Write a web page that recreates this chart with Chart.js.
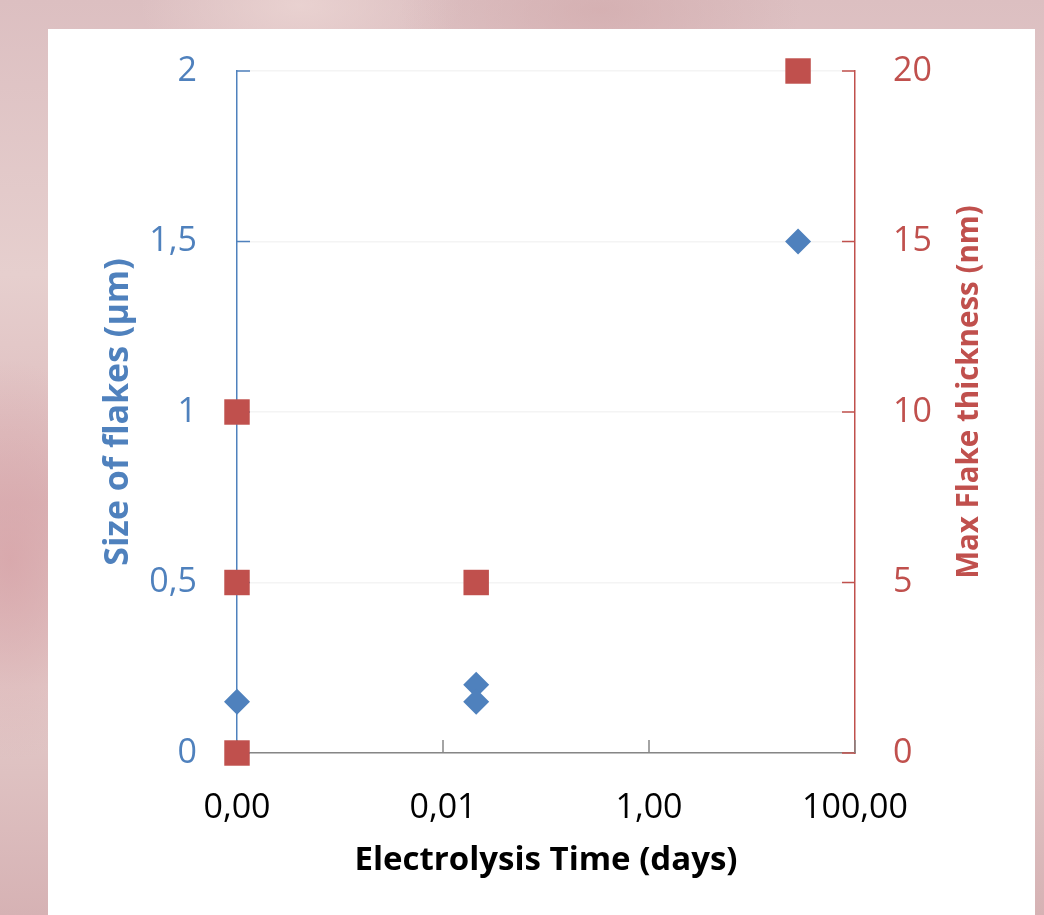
<!DOCTYPE html>
<html>
<head>
<meta charset="utf-8">
<script src="https://cdn.jsdelivr.net/npm/chart.js@4/dist/chart.umd.min.js"></script>
<style>
  html, body { margin:0; padding:0; }
  body {
    width:1044px; height:915px; overflow:hidden; position:relative;
    background:
      radial-gradient(ellipse 120px 200px at 10px 560px, rgba(214,160,165,0.7), transparent),
      radial-gradient(ellipse 200px 90px at 600px 10px, rgba(210,170,172,0.7), transparent),
      radial-gradient(ellipse 160px 80px at 300px 5px, rgba(236,214,212,0.8), transparent),
      radial-gradient(ellipse 60px 300px at 1040px 500px, rgba(225,190,192,0.8), transparent),
      linear-gradient(180deg, #dcbfc1 0%, #e6cfce 30%, #dcb8ba 55%, #e3cac9 75%, #d6b2b4 100%);
  }
  #box {
    position:absolute; left:48px; top:29px; width:987px; height:886px; background:#fff;
  }
</style>
</head>
<body>
<div id="box"><canvas id="grafik" width="987" height="886"></canvas></div>
<script>
// data
const xTicks = [0.0001, 0.01, 1, 100];
const sizeTimes = [0.0001, 0.021, 0.021, 28];
const sizeValues = [0.15, 0.2, 0.15, 1.5];
const thickTimes = [0.0001, 0.0001, 0.0001, 0.021, 28];
const thickValues = [10, 5, 0, 5, 20];

const BLUE = "#4f81bd";
const RED = "#c0504d";
const xTitle = "Electrolysis Time (days)";
const yTitle = "Size of flakes (µm)";
const y1Title = "Max Flake thickness (nm)";

Chart.defaults.font.family = "'Open Sans', sans-serif";

function komma(v){ return String(v).replace(".", ","); }

// inward tick marks + right title drawn the Excel way (bottom-to-top)
const extras = {
  id: "extras",
  beforeDatasetsDraw(c){
    const ctx = c.ctx, a = c.chartArea;
    const sx = c.scales.x, sy = c.scales.y, sy1 = c.scales.y1;
    ctx.save();
    ctx.lineWidth = 1.5;
    ctx.strokeStyle = BLUE;
    sy.ticks.forEach(t=>{
      const p = sy.getPixelForValue(t.value);
      ctx.beginPath(); ctx.moveTo(a.left, p); ctx.lineTo(a.left+13, p); ctx.stroke();
    });
    ctx.strokeStyle = RED;
    sy1.ticks.forEach(t=>{
      const p = sy1.getPixelForValue(t.value);
      ctx.beginPath(); ctx.moveTo(a.right, p); ctx.lineTo(a.right-13, p); ctx.stroke();
    });
    ctx.strokeStyle = "#868686";
    sx.ticks.forEach(t=>{
      const p = sx.getPixelForValue(t.value);
      ctx.beginPath(); ctx.moveTo(p, a.bottom); ctx.lineTo(p, a.bottom-13); ctx.stroke();
    });
    ctx.restore();
  },
  afterDraw(c){
    const ctx = c.ctx;
    ctx.save();
    ctx.translate(922, 363);
    ctx.rotate(-Math.PI/2);
    ctx.font = "bold 29.5px 'Open Sans', sans-serif";
    ctx.fillStyle = RED;
    ctx.textAlign = "center";
    ctx.textBaseline = "middle";
    ctx.fillText(y1Title, 0, 0);
    ctx.restore();
  }
};

new Chart(document.getElementById("grafik").getContext("2d"), {
  type: "scatter",
  data: {
    datasets: [
      {
        label: "Size",
        data: sizeTimes.map((t,i)=>({x:t, y:sizeValues[i]})),
        yAxisID: "y",
        pointStyle: "rectRot",
        pointRadius: 13,
        pointHoverRadius: 13,
        backgroundColor: BLUE,
        borderColor: BLUE,
        borderWidth: 0,
        clip: false
      },
      {
        label: "Thickness",
        data: thickTimes.map((t,i)=>({x:t, y:thickValues[i]})),
        yAxisID: "y1",
        pointStyle: "rect",
        pointRadius: 18,
        pointHoverRadius: 18,
        backgroundColor: RED,
        borderColor: RED,
        borderWidth: 0,
        clip: false
      }
    ]
  },
  options: {
    responsive: false,
    animation: false,
    layout: { padding: { top: 42, left: 0, right: 0, bottom: 0 } },
    plugins: { legend: { display: false }, tooltip: { enabled: false } },
    scales: {
      x: {
        type: "logarithmic",
        min: 0.0001, max: 100,
        afterBuildTicks: s => { s.ticks = xTicks.map(v=>({value:v})); },
        afterFit: s => { s.height = 162; },
        grid: { display: false, drawTicks: false },
        border: { color: "#868686", width: 1.5 },
        ticks: {
          padding: 35, color: "#000", font: { size: 34 },
          callback: v => komma(Number(v).toFixed(2))
        },
        title: {
          display: true, text: xTitle, color: "#000",
          font: { size: 33, weight: "bold" }, padding: { bottom: 35 }
        }
      },
      y: {
        position: "left",
        min: 0, max: 2,
        afterFit: s => { s.width = 189; s.paddingTop = 0; s.paddingBottom = 0; },
        grid: { color: "#f4f4f4", lineWidth: 1.5, drawTicks: false },
        border: { color: BLUE, width: 1.5 },
        ticks: { stepSize: 0.5, padding: 40, color: BLUE, font: { size: 34 }, callback: v => komma(v) },
        title: {
          display: true, text: yTitle, color: BLUE,
          font: { size: 34, weight: "bold" }, padding: { top: 50 }
        }
      },
      y1: {
        position: "right",
        min: 0, max: 20,
        afterFit: s => { s.width = 180; s.paddingTop = 0; s.paddingBottom = 0; },
        grid: { drawOnChartArea: false, drawTicks: false },
        border: { color: RED, width: 1.5 },
        ticks: { stepSize: 5, padding: 38, color: RED, font: { size: 34 } }
      }
    }
  },
  plugins: [extras]
});
</script>
</body>
</html>
